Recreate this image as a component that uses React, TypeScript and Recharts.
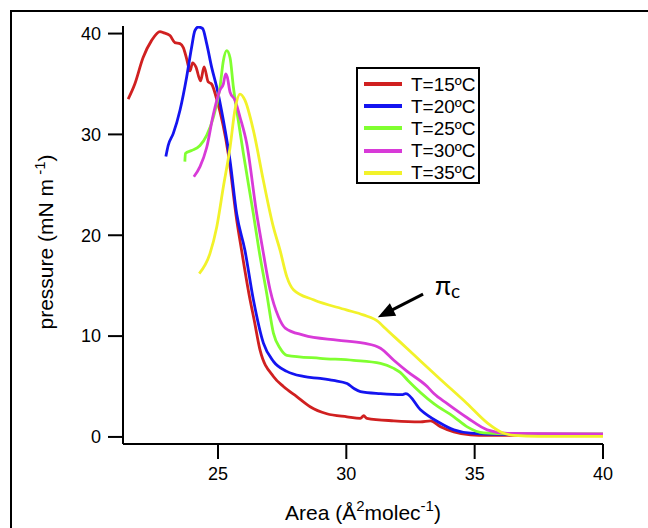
import React from 'react';
import { LineChart, Line, XAxis, YAxis, Legend, ReferenceLine } from 'recharts';

const FONT = '"Liberation Sans", Arial, Helvetica, sans-serif';

// isotherms: molecular area (Å²) vs surface pressure (mN/m)
const area15 = [21.5, 21.76, 22.08, 22.41, 22.74, 22.87, 23.13, 23.32, 23.52, 23.65, 23.78, 23.91, 24.01, 24.14, 24.32, 24.46, 24.62, 24.75, 24.95, 25.4, 25.73, 25.92, 26.25, 26.41, 26.64, 27.16, 27.55, 28.07, 28.59, 29.24, 30.03, 30.55, 30.68, 30.8, 31.85, 32.89, 33.28, 33.67, 34.19, 34.84, 35.5, 37.0, 40.0];
const pressure15 = [33.5, 35.0, 37.6, 39.3, 40.2, 40.1, 39.8, 39.1, 39.0, 38.6, 37.5, 36.3, 37.1, 36.7, 35.3, 36.7, 35.2, 35.0, 33.5, 28.1, 21.5, 18.5, 13.6, 11.6, 8.6, 6.0, 5.0, 4.0, 3.0, 2.3, 2.0, 1.85, 2.1, 1.85, 1.6, 1.5, 1.6, 1.0, 0.5, 0.2, 0.15, 0.15, 0.2];

const area20 = [22.97, 23.06, 23.26, 23.52, 23.78, 23.97, 24.1, 24.23, 24.4, 24.56, 24.75, 24.95, 25.21, 25.47, 25.73, 26.05, 26.38, 26.77, 27.16, 27.68, 28.33, 28.98, 29.5, 30.03, 30.3, 30.55, 31.33, 32.2, 32.32, 32.89, 33.6, 34.19, 34.84, 36.0, 40.0];
const pressure20 = [27.8, 28.9, 30.1, 32.4, 35.7, 38.6, 40.3, 40.65, 40.5, 39.0, 36.7, 34.7, 31.4, 27.4, 22.1, 18.5, 13.6, 9.3, 7.5, 6.5, 6.0, 5.8, 5.6, 5.3, 4.8, 4.5, 4.3, 4.2, 4.3, 2.7, 1.45, 0.7, 0.37, 0.25, 0.25];

const area25 = [23.71, 23.73, 23.97, 24.3, 24.56, 24.82, 25.08, 25.21, 25.34, 25.47, 25.6, 25.79, 25.99, 26.38, 26.6, 26.9, 27.16, 27.42, 27.68, 28.98, 30.28, 31.33, 31.85, 32.1, 32.4, 33.41, 34.19, 34.71, 35.36, 36.5, 40.0];
const pressure25 = [27.3, 28.1, 28.4, 28.9, 29.9, 31.7, 34.7, 37.3, 38.3, 37.6, 34.7, 31.4, 28.1, 22.1, 18.5, 14.2, 10.3, 8.8, 8.1, 7.8, 7.6, 7.3, 6.8, 6.4, 5.6, 3.3, 2.0, 1.0, 0.4, 0.3, 0.3];

const area30 = [24.06, 24.3, 24.56, 24.82, 25.08, 25.21, 25.3, 25.36, 25.47, 25.66, 25.86, 26.12, 26.51, 26.75, 27.03, 27.36, 27.62, 28.33, 29.64, 30.67, 31.33, 31.85, 32.37, 33.15, 33.41, 33.93, 34.71, 35.49, 36.28, 40.0];
const pressure30 = [25.8, 26.8, 28.7, 32.0, 34.4, 35.0, 36.0, 35.7, 34.2, 33.4, 31.7, 29.1, 22.1, 18.5, 14.6, 11.9, 10.8, 10.1, 9.6, 9.3, 8.8, 7.6, 6.5, 5.0, 4.3, 3.3, 1.9, 0.7, 0.35, 0.3];

const area35 = [24.27, 24.69, 24.95, 25.21, 25.47, 25.66, 25.86, 26.05, 26.38, 26.77, 27.16, 27.42, 27.68, 27.94, 28.72, 30.0, 30.66, 31.26, 31.46, 32.1, 32.9, 33.67, 34.71, 35.49, 36.02, 36.54, 37.5, 40.0];
const pressure35 = [16.2, 18.2, 20.8, 24.8, 28.7, 32.4, 34.0, 33.4, 30.4, 25.4, 20.8, 18.5, 15.9, 14.6, 13.6, 12.6, 12.1, 11.4, 10.9, 9.4, 7.5, 5.7, 3.3, 1.4, 0.5, 0.15, 0.05, 0.05];

const seriesNames = ['T=15ºC', 'T=20ºC', 'T=25ºC', 'T=30ºC', 'T=35ºC'];
const seriesColors = ['#d02020', '#1414f0', '#80ff30', '#d83ad8', '#f2f22a'];

const xTicks = [25, 30, 35, 40];
const yTicks = [0, 10, 20, 30, 40];

// πc annotation: arrow from tail to tip, in data units
const arrowTail = { a: 32.99, p: 14.16 };
const arrowTip = { a: 31.23, p: 11.88 };

const zip = (xs: number[], ys: number[]) => xs.map((a, i) => ({ a, p: ys[i] }));

const series = [
  zip(area15, pressure15),
  zip(area20, pressure20),
  zip(area25, pressure25),
  zip(area30, pressure30),
  zip(area35, pressure35),
].map((data, i) => ({ data, name: seriesNames[i], color: seriesColors[i] }));

const YTitle = ({ viewBox }: any) => {
  const x = viewBox.x - 10;
  const y = viewBox.y + viewBox.height / 2 + 7;
  return (
    <text x={x} y={y} transform={`rotate(-90 ${x} ${y})`} textAnchor="middle" fontSize={21} fontFamily={FONT} fill="#000">
      pressure (mN m<tspan dy={-8} fontSize={15}> -1</tspan><tspan dy={8}>)</tspan>
    </text>
  );
};

const XTitle = ({ viewBox }: any) => {
  const x = viewBox.x + viewBox.width / 2;
  const y = viewBox.y + 76;
  return (
    <text x={x} y={y} textAnchor="middle" fontSize={21} fontFamily={FONT} fill="#000">
      Area (Å<tspan dy={-9} fontSize={15}>2</tspan><tspan dy={9}>molec</tspan>
      <tspan dy={-9} fontSize={15}>-1</tspan><tspan dy={9}>)</tspan>
    </text>
  );
};

const ArrowShape = (props: any) => {
  const { x1, y1, x2, y2 } = props;
  const dx = x2 - x1;
  const dy = y2 - y1;
  const len = Math.hypot(dx, dy) || 1;
  const ux = dx / len;
  const uy = dy / len;
  const head = 17;
  const half = 7;
  const bx = x2 - ux * head;
  const by = y2 - uy * head;
  return (
    <g>
      <line x1={x1} y1={y1} x2={bx + ux * 2} y2={by + uy * 2} stroke="#000" strokeWidth={3} />
      <polygon
        points={`${x2},${y2} ${bx - uy * half},${by + ux * half} ${bx + uy * half},${by - ux * half}`}
        fill="#000"
      />
      <text x={x1 + 12} y={y1 + 1} fontFamily="Lato, 'Open Sans', sans-serif" fontSize={26} fill="#000">
        π<tspan fontSize={19} dy={3}>c</tspan>
      </text>
    </g>
  );
};

const LegendBox = ({ payload }: any) => (
  <div
    style={{
      border: '2px solid #000',
      background: '#fff',
      width: 124,
      height: 117,
      padding: '4px 0 0 6px',
      boxSizing: 'border-box',
      fontFamily: FONT,
    }}
  >
    {(payload || []).map((item: any, i: number) => (
      <div key={`lg-${i}`} style={{ display: 'flex', alignItems: 'center', height: 22.2 }}>
        <span style={{ width: 38, height: 4, background: item.color, marginRight: 9, flexShrink: 0 }} />
        <span style={{ fontSize: 19, lineHeight: 1, color: '#000' }}>{item.value}</span>
      </div>
    ))}
  </div>
);

export default function App() {
  return (
    <div style={{ position: 'absolute', left: 0, top: 0, width: 648, height: 528, overflow: 'hidden', background: '#fff' }}>
      <div
        style={{
          position: 'absolute',
          left: 10,
          top: 10,
          width: 700,
          height: 600,
          borderLeft: '2px solid #000',
          borderTop: '2px solid #000',
        }}
      />
      <LineChart width={648} height={528} margin={{ top: 26, right: 45, left: 63, bottom: 24 }}>
        <XAxis
          type="number"
          dataKey="a"
          domain={[21.3, 40]}
          ticks={xTicks}
          interval={0}
          allowDataOverflow
          height={60}
          tickSize={15}
          tickMargin={8}
          axisLine={{ stroke: '#000', strokeWidth: 2 }}
          tickLine={{ stroke: '#000', strokeWidth: 2 }}
          tick={{ fontSize: 18, fill: '#000', fontFamily: FONT }}
          label={<XTitle />}
        />
        <YAxis
          type="number"
          dataKey="p"
          domain={[-0.7, 40.75]}
          ticks={yTicks}
          interval={0}
          allowDataOverflow
          width={60}
          tickSize={15}
          tickMargin={7}
          axisLine={{ stroke: '#000', strokeWidth: 2 }}
          tickLine={{ stroke: '#000', strokeWidth: 2 }}
          tick={{ fontSize: 18, fill: '#000', fontFamily: FONT }}
          label={<YTitle />}
        />
        {series.map((s) => (
          <Line
            key={s.name}
            data={s.data}
            dataKey="p"
            name={s.name}
            type="monotone"
            stroke={s.color}
            strokeWidth={2.8}
            dot={false}
            activeDot={false}
            isAnimationActive={false}
          />
        ))}
        <ReferenceLine
          segment={[
            { x: arrowTail.a, y: arrowTail.p },
            { x: arrowTip.a, y: arrowTip.p },
          ]}
          ifOverflow="visible"
          shape={<ArrowShape />}
        />
        <Legend
          layout="vertical"
          align="center"
          verticalAlign="middle"
          content={<LegendBox />}
          wrapperStyle={{ left: 356, top: 67, width: 128, height: 121 }}
        />
      </LineChart>
    </div>
  );
}
